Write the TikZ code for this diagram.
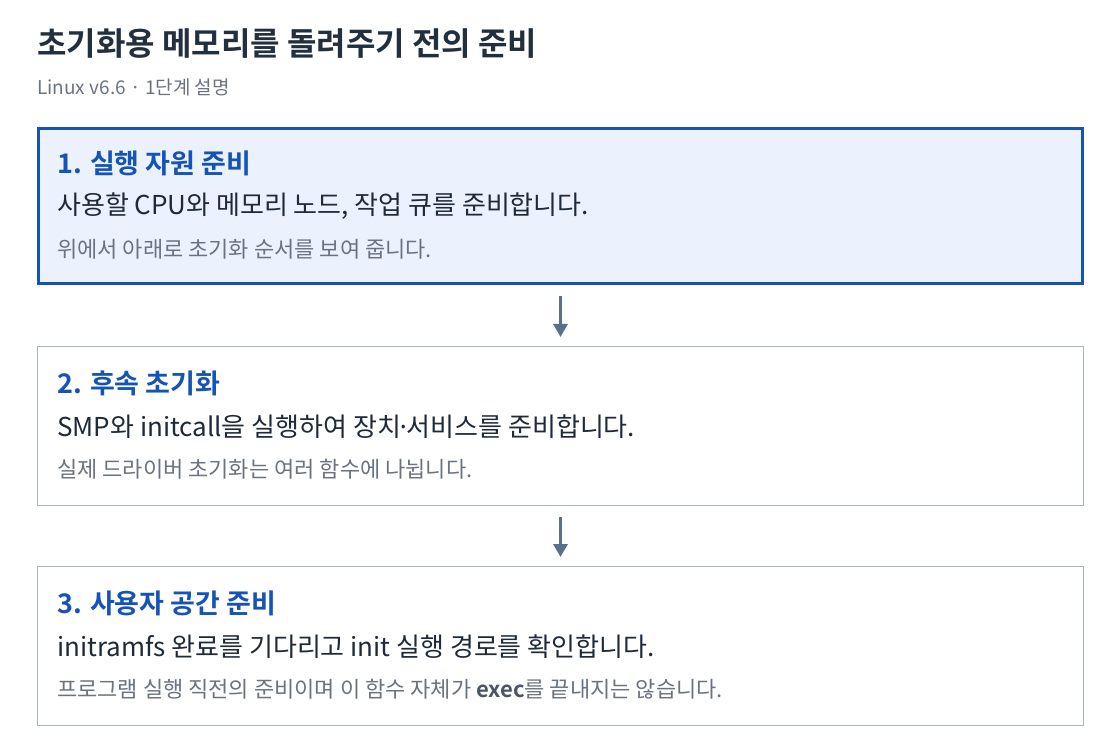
\documentclass[tikz,border=0pt]{standalone}
\usepackage{fontspec}
\setmainfont{Noto Sans CJK KR}[BoldFont={* Bold}]
\usepackage{xcolor}
\usetikzlibrary{arrows.meta}

\definecolor{titlecol}{HTML}{222F3E}
\definecolor{headblue}{HTML}{1553B6}
\definecolor{bodycol}{HTML}{1E2A3A}
\definecolor{notecol}{HTML}{6B7380}
\definecolor{codecol}{HTML}{4A5568}
\definecolor{activefill}{HTML}{EBF2FD}
\definecolor{boxline}{HTML}{A9B3C2}
\definecolor{arrowcol}{HTML}{57708C}

\newcommand{\tightdot}{\kern-0.17em·\kern-0.17em}

\tikzset{
  txt/.style={anchor=west, inner sep=0pt},
  titletxt/.style={txt, text=titlecol, font=\fontsize{32}{38}\selectfont\bfseries},
  subtxt/.style={txt, text=notecol, font=\fontsize{19}{23}\selectfont},
  headtxt/.style={txt, text=headblue, font=\fontsize{27}{32}\selectfont\bfseries},
  bodytxt/.style={txt, text=bodycol, font=\fontsize{26}{31}\selectfont},
  notetxt/.style={txt, text=notecol, font=\fontsize{22}{26}\selectfont},
  stagebox/.style={draw=boxline, fill=white, line width=1pt, inner sep=0pt,
    minimum width=1046pt, minimum height=159pt},
  activebox/.style={stagebox, draw=headblue, fill=activefill, line width=3pt,
    minimum width=1044pt, minimum height=155pt},
  flow/.style={draw=arrowcol, line width=3pt, -{Triangle[length=13pt,width=14pt]},
    shorten <=11pt, shorten >=9pt}
}

\begin{document}
\begin{tikzpicture}[x=1pt,y=-1pt]
        \useasboundingbox (0,0) rectangle (1120,754);
        \node[titletxt](title) at (37,44) {초기화용 메모리를 돌려주기 전의 준비};
        \node[subtxt](sub) at (37,87) {Linux v6.6 · 1단계 설명};

        \node[activebox](s1) at (560.5,206) {};
        \node[headtxt](h1) at (57,163) {1. 실행 자원 준비};
        \node[bodytxt](b1) at (57,206) {사용할 CPU와 메모리 노드, 작업 큐를 준비합니다.};
        \node[notetxt](n1) at (57,249) {위에서 아래로 초기화 순서를 보여 줍니다.};

        \node[stagebox](s2) at (560.5,426) {};
        \node[headtxt](h2) at (57,383) {2. 후속 초기화};
        \node[bodytxt](b2) at (57,427) {SMP와 initcall을 실행하여 장치\tightdot 서비스를 준비합니다.};
        \node[notetxt](n2) at (57,469) {실제 드라이버 초기화는 여러 함수에 나뉩니다.};

        \node[stagebox](s3) at (560.5,646) {};
        \node[headtxt](h3) at (57,603) {3. 사용자 공간 준비};
        \node[bodytxt](b3) at (57,647) {initramfs 완료를 기다리고 init 실행 경로를 확인합니다.};
        \node[notetxt](n3) at (57,689) {프로그램 실행 직전의 준비이며 이 함수 자체가 \textbf{\color{codecol}exec}를 끝내지는 않습니다.};

        \draw[flow](s1)--(s2);
        \draw[flow](s2)--(s3);
        \end{tikzpicture}
\end{document}
